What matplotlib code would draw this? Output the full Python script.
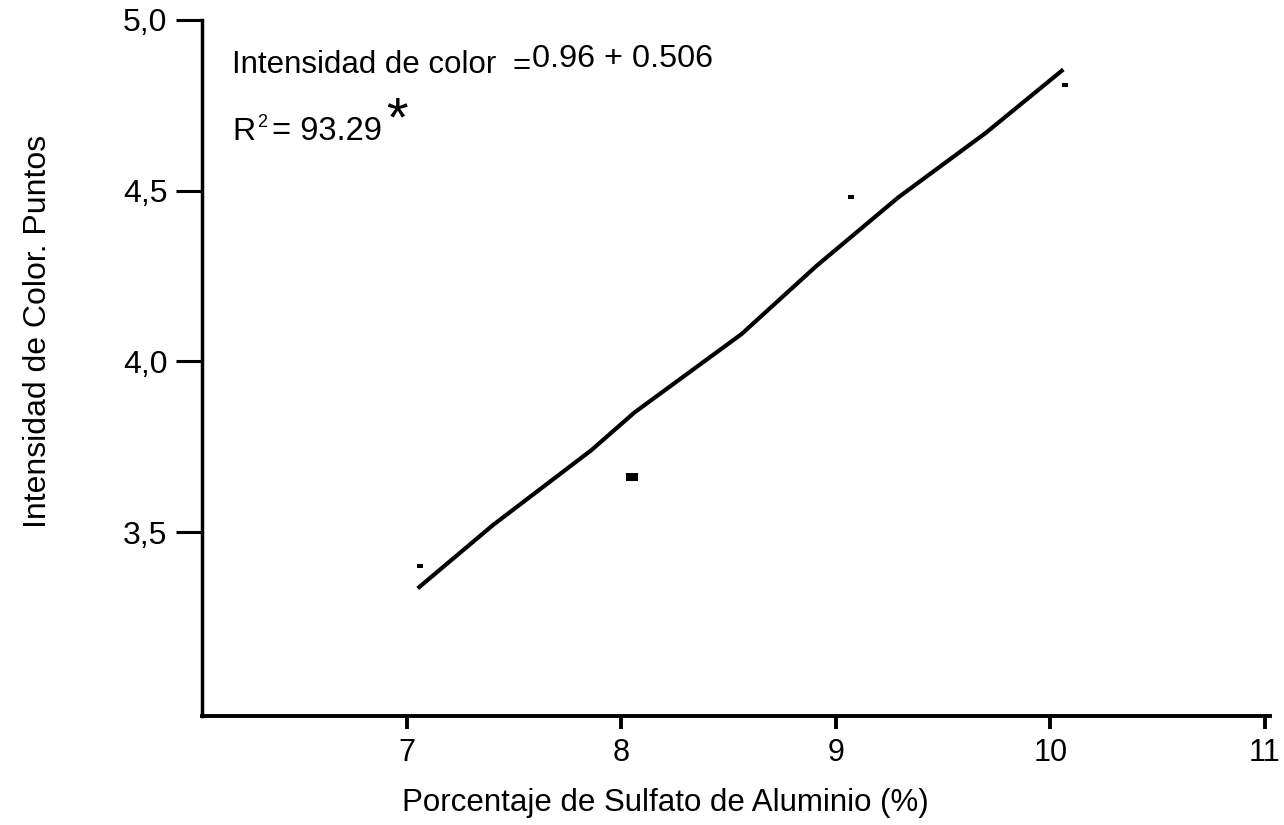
import matplotlib as mpl
import matplotlib.pyplot as plt

mpl.rcParams['font.family'] = ['Liberation Sans', 'DejaVu Sans']

# observed points
sulfato = [7.06, 8.05, 9.07, 10.07]
intensidad = [3.40, 3.66, 4.48, 4.81]

# fitted line (as drawn)
fit_x = [7.05, 7.40, 7.86, 8.06, 8.56, 8.91, 9.29, 9.70, 10.06]
fit_y = [3.335, 3.52, 3.74, 3.85, 4.08, 4.28, 4.48, 4.67, 4.855]

x_ticks = [7, 8, 9, 10, 11]
y_ticks = [3.5, 4.0, 4.5, 5.0]
y_ticklabels = ["3,5", "4,0", "4,5", "5,0"]

W, H = 1284, 825
fig = plt.figure(figsize=(W / 100, H / 100), dpi=100)
ax = fig.add_axes([0.1573, 0.1321, 0.8317, 0.8437])

ax.plot(fit_x, fit_y, color="black", linewidth=3, solid_capstyle="butt")

# small flat rectangles, the one at 8 bigger
flat = [(-1, -0.5), (1, -0.5), (1, 0.5), (-1, 0.5), (-1, -0.5)]
block = [(-1, -0.64), (1, -0.64), (1, 0.64), (-1, 0.64), (-1, -0.64)]
for i, (x, y) in enumerate(zip(sulfato, intensidad)):
    if i == 1:
        ax.plot(x, y, marker=block, markersize=8, markeredgewidth=0,
                color="black", linestyle="none")
    else:
        ax.plot(x, y, marker=flat, markersize=4.5, markeredgewidth=0,
                color="black", linestyle="none")

ax.set_xlim(6.044, 11.023)
ax.set_ylim(2.961, 5.0)

ax.spines['top'].set_visible(False)
ax.spines['right'].set_visible(False)
ax.spines['left'].set_linewidth(2.5)
ax.spines['bottom'].set_linewidth(2.8)

ax.set_xticks(x_ticks)
ax.set_xticklabels([str(t) for t in x_ticks], fontsize=22)
ax.set_yticks(y_ticks)
ax.set_yticklabels(y_ticklabels, fontsize=23)
ax.tick_params(axis='y', direction='out', length=19, width=2.2, pad=6)
ax.tick_params(axis='x', direction='out', length=9, width=2.8, pad=7)

ax.set_xlabel("Porcentaje de Sulfato de Aluminio (%)", fontsize=22.5)
ax.xaxis.set_label_coords(0.434, -0.103)
ax.set_ylabel("Intensidad de Color. Puntos", fontsize=23)
ax.yaxis.set_label_coords(-0.1395, 0.553)


def px(x, y):
    return x / W, 1 - y / H


fig.text(*px(232, 73), "Intensidad de color", fontsize=22.5, va="baseline", ha="left")
fig.text(*px(512, 74), "=", fontsize=22.5, va="baseline", ha="left")
fig.text(*px(532, 67), "0.96 + 0.506", fontsize=23.3, va="baseline", ha="left")
fig.text(*px(232, 140), "R", fontsize=23, va="baseline", ha="left")
fig.text(*px(257, 127), "2", fontsize=13, va="baseline", ha="left")
fig.text(*px(272, 140), "= 93.29", fontsize=23.5, va="baseline", ha="left")
fig.text(*px(386, 135), "*", fontsize=40, va="baseline", ha="left")

plt.savefig("out.png", dpi=100)
